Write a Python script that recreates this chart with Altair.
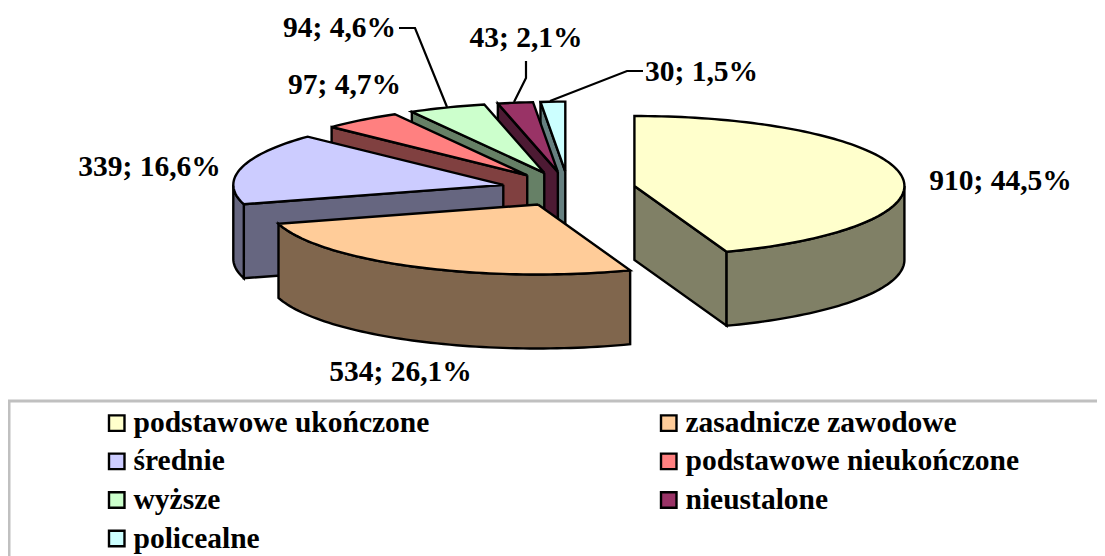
import math
import altair as alt
import pandas as pd

# ---- chart data
categories = ["podstawowe ukończone", "zasadnicze zawodowe", "średnie", "podstawowe nieukończone",
              "wyższe", "nieustalone", "policealne"]
values = [910, 534, 339, 97, 94, 43, 30]
percent_labels = ["44,5%", "26,1%", "16,6%", "4,7%", "4,6%", "2,1%", "1,5%"]
top_colors = ["#FFFFCC", "#FFCC99", "#CCCCFF", "#FF8080", "#CCFFCC", "#993366", "#CCFFFF"]
side_colors = ["#808066", "#80664D", "#666680", "#804040", "#668066", "#4D1A33", "#668080"]

# ---- layout of the view (pixels in the view)
W, H = 1089, 548
CX, CY = 560.4, 181.0   # pie centre
RX, RY = 270.0, 70.0    # size of one radius
DEPTH = 74.0 / RY       # pie thickness in radii
EXPLODE = 66.6 / 271.0 / 0.99
FONT = "Liberation Serif"


def ux(px):
    return (px - CX) / RX


def uy(py):
    return (CY - py) / RY


x_scale = alt.Scale(domain=[ux(0), ux(W)], range=[0, W], nice=False, zero=False)
y_scale = alt.Scale(domain=[uy(H), uy(0)], range=[H, 0], nice=False, zero=False)

# ---- slices
total = sum(values)
rows = []
seq = 0


def add(name, key, pts):
    global seq
    for n, (a, b) in enumerate(pts + pts[:1]):
        rows.append({"piece": name, "key": key, "i": n, "seq": seq, "X": a, "Y": b})
    seq += 1


cum = 0.0
slices = []
for c, v in zip(categories, values):
    a0 = cum / total * 2 * math.pi
    cum += v
    a1 = cum / total * 2 * math.pi
    slices.append((c, a0, a1))

for c, a0, a1 in reversed(slices):
    mid = (a0 + a1) / 2
    ox, oy = EXPLODE * math.sin(mid), EXPLODE * math.cos(mid)
    side = c + " (bok)"
    apex = (ox, oy)

    def rim(a, d=0.0):
        return (ox + math.sin(a), oy + math.cos(a) - d)

    # visible straight faces
    for a, sign in ((a0, -1), (a1, 1)):
        if math.sin(a) * sign > 1e-6:
            add(c + " f" + str(sign), side, [apex, rim(a), rim(a, DEPTH), (ox, oy - DEPTH)])
    # visible outer wall (front half only)
    lo, hi = max(a0, math.pi / 2), min(a1, 3 * math.pi / 2)
    if hi > lo:
        n = max(2, int((hi - lo) * 40))
        arc = [lo + (hi - lo) * k / n for k in range(n + 1)]
        add(c + " wall", side, [rim(a) for a in arc] + [rim(a, DEPTH) for a in reversed(arc)])
    # top
    n = max(2, int((a1 - a0) * 40))
    add(c + " top", c, [apex] + [rim(a0 + (a1 - a0) * k / n) for k in range(n + 1)])

df = pd.DataFrame(rows)

domain = categories + [c + " (bok)" for c in categories]
colors = top_colors + side_colors

pie = alt.Chart(df).mark_line(stroke="black", strokeWidth=2.4, strokeJoin="miter", clip=False).encode(
    x=alt.X("X:Q", scale=x_scale, axis=None),
    y=alt.Y("Y:Q", scale=y_scale, axis=None),
    detail="seq:O",
    order="i:Q",
    fill=alt.Fill("key:N", scale=alt.Scale(domain=domain, range=colors), legend=alt.Legend(
        values=categories, title=None, orient="none", legendX=94, legendY=400, columns=2, direction="horizontal",
        symbolType="square", symbolSize=240, symbolStrokeColor="black", symbolStrokeWidth=2.4,
        symbolOpacity=1, labelFont=FONT, labelFontWeight="bold", labelFontSize=29.5, labelColor="black",
        labelLimit=500, labelOffset=2, columnPadding=186, rowPadding=7.6, gridAlign="all",
    )),
)

# ---- data labels, centred at these pixel positions
label_px = [(992.5, 173), (392.5, 364), (141.5, 159), (336.5, 77), (331.5, 20), (518, 30), (693.5, 64)]
labels = pd.DataFrame({
    "t": [f"{v}; {p}" for v, p in zip(values, percent_labels)],
    "X": [ux(p[0]) for p in label_px],
    "Y": [uy(p[1]) for p in label_px],
})
text = alt.Chart(labels).mark_text(font=FONT, fontWeight="bold", fontSize=29.5, color="black",
                                   align="center", baseline="middle").encode(
    x=alt.X("X:Q", scale=x_scale, axis=None), y=alt.Y("Y:Q", scale=y_scale, axis=None), text="t:N")

# ---- leader lines
leaders_px = {
    "wyższe": [(391, 20), (407, 20), (439, 99)],
    "nieustalone": [(518, 53), (518, 70), (506, 94)],
    "policealne": [(635, 63), (619, 63), (542, 93)],
}
lead = pd.DataFrame([{"s": s, "i": i, "X": ux(p[0]), "Y": uy(p[1])}
                     for s, pts in leaders_px.items() for i, p in enumerate(pts)])
leader = alt.Chart(lead).mark_line(color="black", strokeWidth=2.2, strokeJoin="miter").encode(
    x=alt.X("X:Q", scale=x_scale, axis=None), y=alt.Y("Y:Q", scale=y_scale, axis=None),
    detail="s:N", order="i:Q")

# ---- legend frame
frame_df = pd.DataFrame([{"x": ux(1), "x2": ux(W + 40), "y": uy(393), "y2": uy(H + 40)}])
frame = alt.Chart(frame_df).mark_rect(fill="white", stroke="#C0C0C0", strokeWidth=3, clip=True).encode(
    x=alt.X("x:Q", scale=x_scale, axis=None), x2="x2:Q",
    y=alt.Y("y:Q", scale=y_scale, axis=None), y2="y2:Q")

chart = alt.layer(frame, leader, pie, text).properties(
    width=W, height=H, padding=0, autosize=alt.AutoSizeParams(type="none"), background="white"
).configure_view(stroke=None)

chart.save("out.html", embed_options={"renderer": "svg", "actions": False})
